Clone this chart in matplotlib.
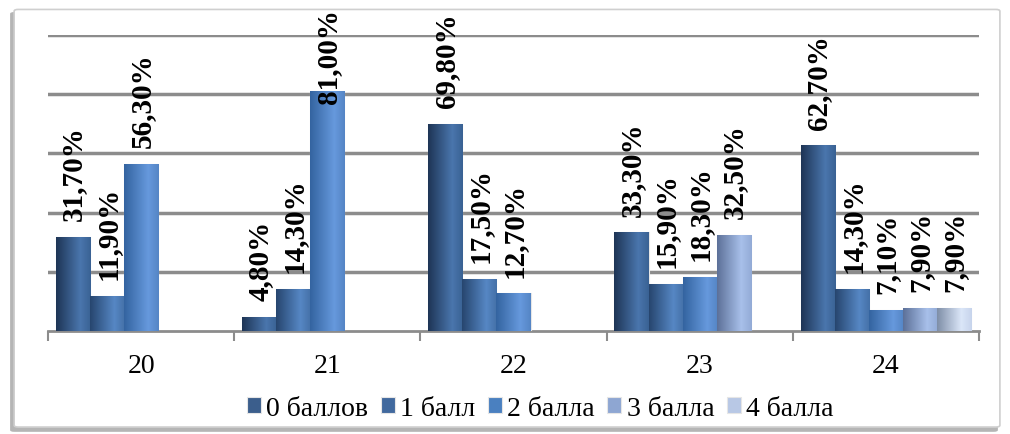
import matplotlib
matplotlib.use("Agg")
import matplotlib.pyplot as plt
import numpy as np
from matplotlib.colors import LinearSegmentedColormap
from matplotlib.patches import FancyBboxPatch

plt.rcParams["font.family"] = ["Liberation Serif", "DejaVu Serif"]

categories = ["20", "21", "22", "23", "24"]
series_names = ["0 баллов", "1 балл", "2 балла", "3 балла", "4 балла"]
# percent values per series, nan = no bar
s0 = [31.7, 4.8, 69.8, 33.3, 62.7]
s1 = [11.9, 14.3, 17.5, 15.9, 14.3]
s2 = [56.3, 81.0, 12.7, 18.3, 7.1]
s3 = [np.nan, np.nan, np.nan, 32.5, 7.9]
s4 = [np.nan, np.nan, np.nan, np.nan, 7.9]
series = [s0, s1, s2, s3, s4]

flat_colors = ["#3b5e8c", "#41699e", "#4a80c0", "#8ea6d2", "#b8c8e5"]
gradients = [
    ["#1e3556", "#4a76ad", "#3a6294"],
    ["#27466f", "#5687c4", "#4571a8"],
    ["#3464a0", "#6699dd", "#5585c5"],
    ["#5d7199", "#a8c0ea", "#93abd6"],
    ["#7f8fa8", "#dbe6f8", "#c7d4ec"],
]

fig = plt.figure(figsize=(10.1, 4.35), dpi=100)

# outer frame with a soft shadow
shadow = FancyBboxPatch((0.010, 0.005), 0.978, 0.965, boxstyle="round,pad=0,rounding_size=0.004",
                        transform=fig.transFigure, facecolor="#b5b5b5", edgecolor="none", zorder=-2)
frame = FancyBboxPatch((0.014, 0.016), 0.976, 0.960, boxstyle="round,pad=0,rounding_size=0.004",
                       transform=fig.transFigure, facecolor="white", edgecolor="#cfcfcf", lw=1.2, zorder=-1)
fig.patches.extend([shadow, frame])

ax = fig.add_axes([0.0475, 0.2368, 0.9218, 0.6805])
ax.set_facecolor("none")

x = np.arange(len(categories))
width = 0.183
n = len(series)
grad = np.linspace(0, 1, 64).reshape(1, -1)

for k, vals in enumerate(series):
    offset = (k - (n - 1) / 2) * width
    vals = np.array(vals, dtype=float)
    mask = ~np.isnan(vals)
    bars = ax.bar(x[mask] + offset, vals[mask], width, color=flat_colors[k], edgecolor="#e6e6e6",
                  linewidth=0.8, label=series_names[k], zorder=3)
    cmap = LinearSegmentedColormap.from_list(f"g{k}", list(zip([0, 0.7, 1], gradients[k])))
    for rect in bars:
        x0 = rect.get_x()
        h = rect.get_height()
        im = ax.imshow(grad, cmap=cmap, extent=[x0, x0 + rect.get_width(), 0, h],
                       aspect="auto", zorder=3.5)
        im.set_clip_path(rect)
    for xi, v in zip(x[mask] + offset, vals[mask]):
        # outside-end label, pushed down when it would leave the chart area
        base = min(v + 5.7, 77.0)
        ax.text(xi + 0.005, base, f"{v:.2f}%".replace(".", ","), rotation=90, ha="center", va="bottom",
                fontsize=21, fontweight="bold", color="black", zorder=5)

ax.set_xlim(-0.5, len(categories) - 0.5)
ax.set_ylim(0, 100)
ax.set_yticks([20, 40, 60, 80, 100])
ax.yaxis.grid(True, color="#8c8c8c", lw=2.5, zorder=0)
ax.tick_params(axis="y", length=0, labelleft=False)
ax.set_xticks(x)
ax.set_xticklabels(categories, fontsize=20)
ax.set_xticks(np.arange(len(categories) + 1) - 0.5, minor=True)
ax.tick_params(axis="x", which="major", length=0, pad=16)
ax.tick_params(axis="x", which="minor", length=7, width=1.5, color="#8c8c8c")
for side in ["top", "left", "right"]:
    ax.spines[side].set_visible(False)
ax.spines["bottom"].set_color("#8c8c8c")
ax.spines["bottom"].set_linewidth(2)
ax.set_axisbelow(True)

handles, labels = ax.get_legend_handles_labels()
fig.legend(handles, labels, loc="center", bbox_to_anchor=(0.535, 0.058), ncol=5, frameon=False,
           fontsize=20, handlelength=0.5, handleheight=0.5, handletextpad=0.2, columnspacing=0.45)

fig.savefig("out.png", dpi=100)
